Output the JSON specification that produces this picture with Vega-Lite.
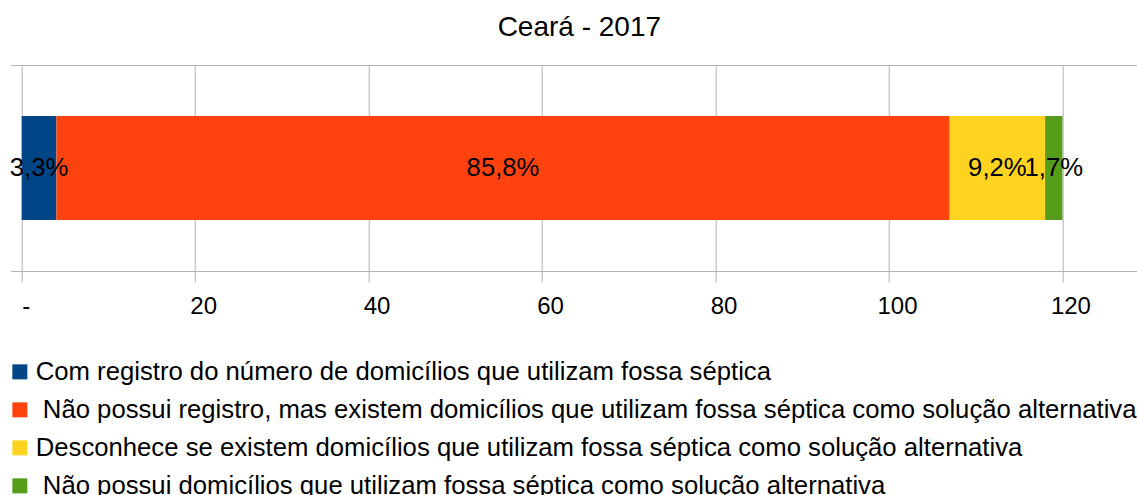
{
  "$schema": "https://vega.github.io/schema/vega-lite/v6.json",
  "autosize": {"type": "none"},
  "width": 1115.3,
  "height": 206,
  "padding": {"left": 21.7, "top": 65, "right": 0, "bottom": 224},
  "background": "white",
  "title": {
    "text": "Ceará - 2017",
    "fontSize": 28,
    "font": "Liberation Sans",
    "fontWeight": "normal",
    "color": "black",
    "anchor": "middle",
    "baseline": "alphabetic",
    "offset": 1
  },
  "config": {
    "view": {"stroke": null},
    "font": "Liberation Sans"
  },
  "data": {
    "values": [
      {"estado": "Ceará", "categoria": "Com registro do número de domicílios que utilizam fossa séptica", "valor": 4, "ordem": 1, "rotulo": "3,3%"},
      {"estado": "Ceará", "categoria": "\u200b\u00a0Não possui registro, mas existem domicílios que utilizam fossa séptica como solução alternativa", "valor": 103, "ordem": 2, "rotulo": "85,8%"},
      {"estado": "Ceará", "categoria": "Desconhece se existem domicílios que utilizam fossa séptica como solução alternativa", "valor": 11, "ordem": 3, "rotulo": "9,2%"},
      {"estado": "Ceará", "categoria": "\u200b\u00a0Não possui domicílios que utilizam fossa séptica como solução alternativa", "valor": 2, "ordem": 4, "rotulo": "1,7%"}
    ]
  },
  "encoding": {
    "y": {
      "field": "estado",
      "type": "nominal",
      "scale": {"paddingInner": 0, "paddingOuter": 0},
      "axis": {
        "title": null,
        "labels": false,
        "domain": false,
        "ticks": true,
        "tickBand": "extent",
        "tickSize": 11,
        "tickColor": "#b3b3b3",
        "grid": true,
        "gridColor": "#b3b3b3",
        "gridWidth": 1
      }
    }
  },
  "layer": [
    {
      "mark": {"type": "bar", "height": 104},
      "encoding": {
        "x": {
          "field": "valor",
          "type": "quantitative",
          "stack": "zero",
          "scale": {"domain": [0, 128.6], "nice": false},
          "axis": {
            "title": null,
            "values": [0, 20, 40, 60, 80, 100, 120],
            "labelExpr": "datum.value == 0 ? '-' : datum.label",
            "labelFontSize": 24,
            "labelColor": "black",
            "labelFont": "Liberation Sans",
            "labelPadding": 12,
            "labelOffset": {"condition": {"test": "datum.value == 0", "value": 0}, "value": 8},
            "tickSize": 11,
            "tickColor": "#b3b3b3",
            "domain": false,
            "grid": true,
            "gridColor": "#b3b3b3",
            "gridWidth": 1
          }
        },
        "color": {
          "field": "categoria",
          "type": "nominal",
          "scale": {
            "domain": [
              "Com registro do número de domicílios que utilizam fossa séptica",
              "\u200b\u00a0Não possui registro, mas existem domicílios que utilizam fossa séptica como solução alternativa",
              "Desconhece se existem domicílios que utilizam fossa séptica como solução alternativa",
              "\u200b\u00a0Não possui domicílios que utilizam fossa séptica como solução alternativa"
            ],
            "range": ["#004586", "#ff420e", "#ffd320", "#579d1c"]
          },
          "legend": {
            "title": null,
            "orient": "none",
            "legendX": -14.7,
            "legendY": 294,
            "direction": "vertical",
            "symbolType": "square",
            "symbolSize": 225,
            "symbolStrokeWidth": 0,
            "symbolOpacity": 1,
            "labelFontSize": 25.7,
            "labelColor": "black",
            "labelFont": "Liberation Sans",
            "labelLimit": 3000,
            "labelOffset": 3,
            "rowPadding": 11,
            "padding": 0
          }
        },
        "order": {"field": "ordem", "type": "quantitative"}
      }
    },
    {
      "mark": {"type": "text", "fontSize": 25.7, "color": "black", "font": "Liberation Sans", "align": "center", "baseline": "middle"},
      "encoding": {
        "x": {"field": "valor", "type": "quantitative", "stack": "zero", "bandPosition": 0.5},
        "text": {"field": "rotulo", "type": "nominal"},
        "detail": {"field": "categoria", "type": "nominal"},
        "order": {"field": "ordem", "type": "quantitative"}
      }
    }
  ]
}
